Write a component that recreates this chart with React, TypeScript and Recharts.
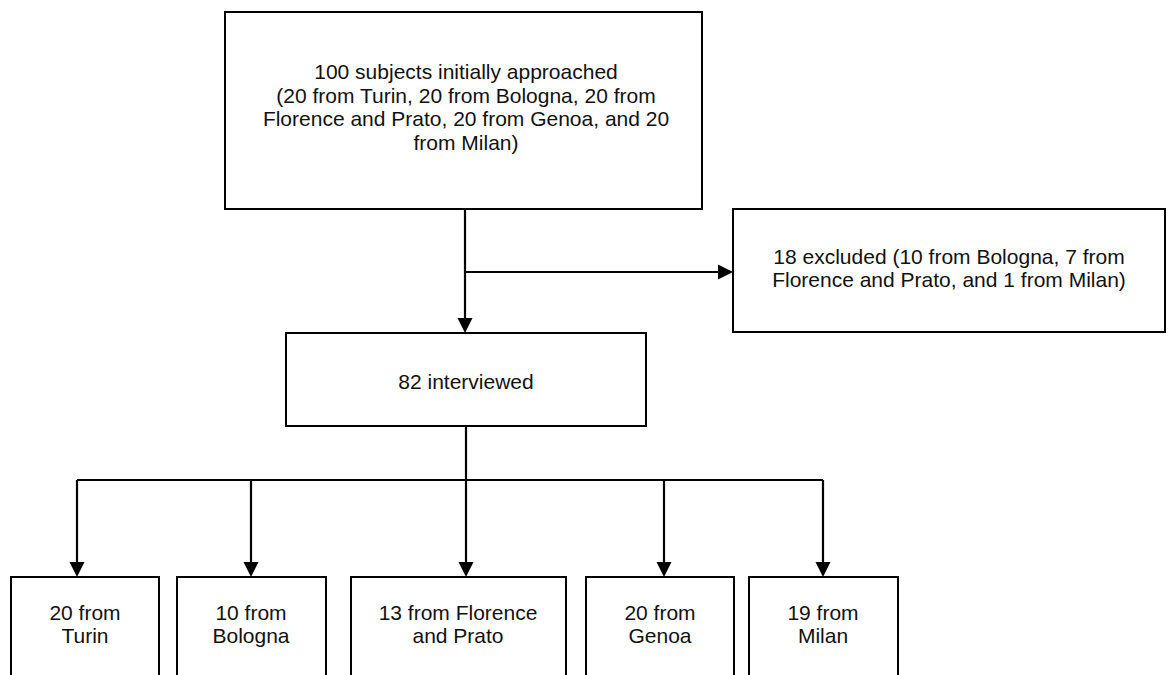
import React from "react";
import {
  ScatterChart, Scatter, XAxis, YAxis, ReferenceArea, ReferenceLine,
} from "recharts";

// node texts, one entry per box
const nodeLabels = [
  ["100 subjects initially approached", "(20 from Turin, 20 from Bologna, 20 from", "Florence and Prato, 20 from Genoa, and 20", "from Milan)"],
  ["18 excluded (10 from Bologna, 7 from", "Florence and Prato, and 1 from Milan)"],
  ["82 interviewed"],
  ["20 from", "Turin"],
  ["10 from", "Bologna"],
  ["13 from Florence", "and Prato"],
  ["20 from", "Genoa"],
  ["19 from", "Milan"],
];

// box extents in page pixels (x1, x2, y1, y2)
const boxX1 = [225, 733, 286, 11, 177, 351, 586, 749];
const boxX2 = [702, 1165, 646, 159, 326, 566, 734, 898];
const boxY1 = [12, 209, 333, 577, 577, 577, 577, 577];
const boxY2 = [209, 332, 426, 700, 700, 700, 700, 700];

// where each block of text is centred
const labelX = [466, 949, 466, 85, 251, 458, 660, 823];
const labelY = [107, 268, 381, 624, 624, 624, 624, 624];

// connector segments
const segments = [
  [{ x: 465, y: 209 }, { x: 465, y: 320 }],
  [{ x: 465, y: 272 }, { x: 720, y: 272 }],
  [{ x: 466, y: 426 }, { x: 466, y: 480 }],
  [{ x: 77, y: 480 }, { x: 823, y: 480 }],
  [{ x: 77, y: 480 }, { x: 77, y: 564 }],
  [{ x: 251, y: 480 }, { x: 251, y: 564 }],
  [{ x: 466, y: 480 }, { x: 466, y: 564 }],
  [{ x: 664, y: 480 }, { x: 664, y: 564 }],
  [{ x: 823, y: 480 }, { x: 823, y: 564 }],
];

// arrow tips
const arrowHeads = [
  { x: 465, y: 333, dir: "down" },
  { x: 733, y: 272, dir: "right" },
  { x: 77, y: 577, dir: "down" },
  { x: 251, y: 577, dir: "down" },
  { x: 466, y: 577, dir: "down" },
  { x: 664, y: 577, dir: "down" },
  { x: 823, y: 577, dir: "down" },
];

const labels = nodeLabels.map((lines, i) => ({ x: labelX[i], y: labelY[i], lines }));

const LINE_H = 23.5;
const FONT = "'Liberation Sans', Arial, Helvetica, sans-serif";

const ArrowShape = (props: any) => {
  const { cx, cy, payload } = props;
  const pts = payload.dir === "right"
    ? `${cx - 15},${cy - 7.5} ${cx - 15},${cy + 7.5} ${cx},${cy}`
    : `${cx - 7.5},${cy - 15} ${cx + 7.5},${cy - 15} ${cx},${cy}`;
  return <polygon points={pts} fill="#000" />;
};

const LabelShape = (props: any) => {
  const { cx, cy, payload } = props;
  const lines: string[] = payload.lines;
  const start = cy - ((lines.length - 1) * LINE_H) / 2;
  return (
    <text textAnchor="middle" fontFamily={FONT} fontSize={21} fill="#111">
      {lines.map((l, i) => (
        <tspan key={i} x={cx} y={start + i * LINE_H} dominantBaseline="central">{l}</tspan>
      ))}
    </text>
  );
};

export default function App() {
  return (
    <div style={{ position: "absolute", left: 0, top: 0, background: "#fff" }}>
      <ScatterChart width={1171} height={675} margin={{ top: 0, right: 0, bottom: 0, left: 0 }}>
        <XAxis type="number" dataKey="x" domain={[0, 1171]} hide allowDataOverflow />
        <YAxis type="number" dataKey="y" domain={[0, 675]} reversed hide allowDataOverflow />
        {segments.map((s, i) => (
          <ReferenceLine key={`s${i}`} segment={s} stroke="#000" strokeWidth={2.2} ifOverflow="visible" />
        ))}
        {boxX1.map((x1, i) => (
          <ReferenceArea key={`b${i}`} x1={x1} x2={boxX2[i]} y1={boxY1[i]} y2={boxY2[i]}
            fill="#fff" fillOpacity={1} stroke="#000" strokeWidth={2} ifOverflow="visible" />
        ))}
        <Scatter data={arrowHeads} shape={<ArrowShape />} isAnimationActive={false} />
        <Scatter data={labels} shape={<LabelShape />} isAnimationActive={false} />
      </ScatterChart>
    </div>
  );
}
